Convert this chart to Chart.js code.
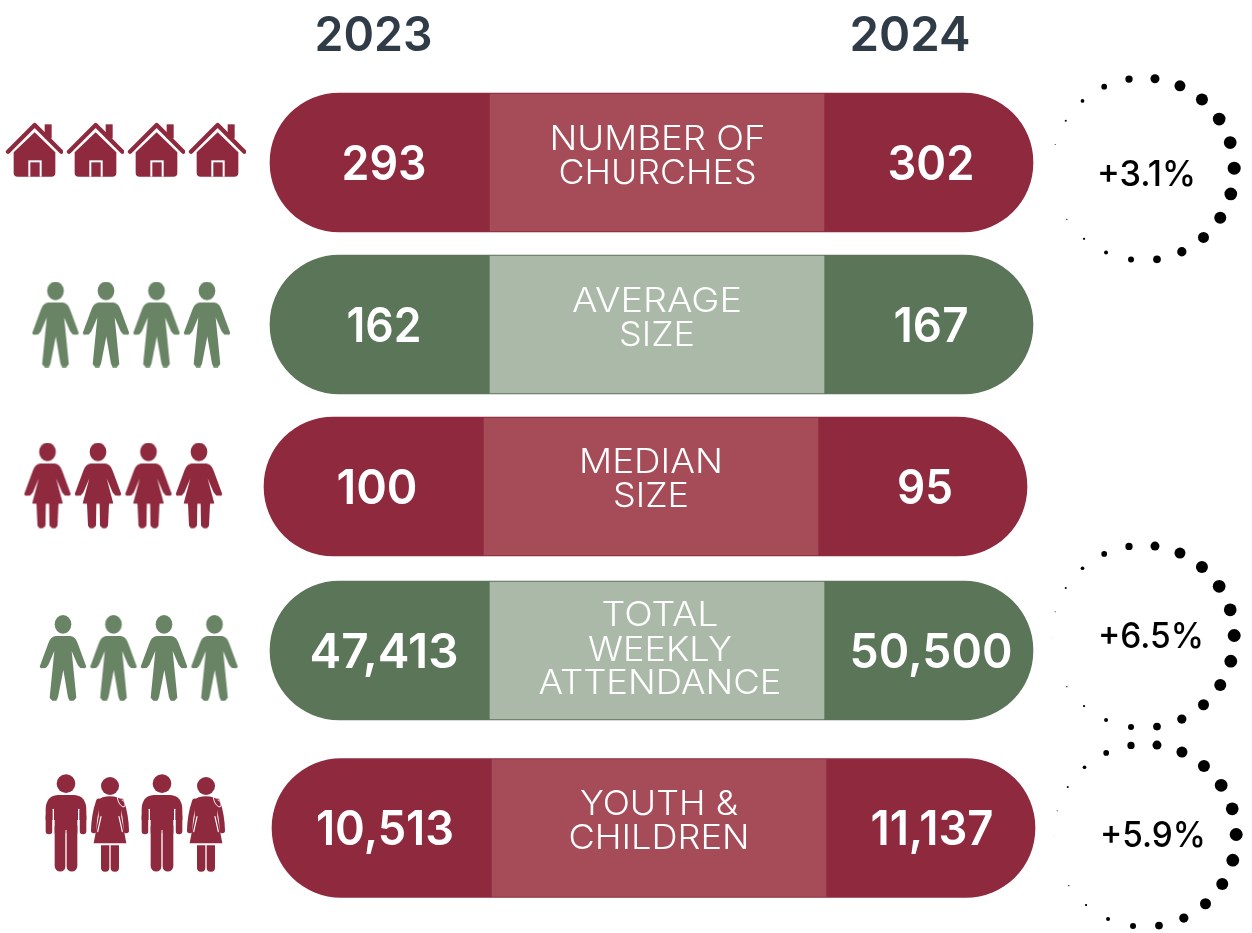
<!DOCTYPE html>
<html><head><meta charset="utf-8">
<style>html,body{margin:0;padding:0;background:#fff}canvas{display:block}</style>
<script src="https://cdn.jsdelivr.net/npm/chart.js@4"></script>
</head><body><canvas id="c" width="1252" height="933"></canvas>
<script>
// ---- data
const years = ['2023', '2024'];
const categories = [['NUMBER OF','CHURCHES'],['AVERAGE','SIZE'],['MEDIAN','SIZE'],['TOTAL','WEEKLY','ATTENDANCE'],['YOUTH &','CHILDREN']];
const values2023 = [293, 162, 100, 47413, 10513];
const values2024 = [302, 167, 95, 50500, 11137];
const changes = ['+3.1%', null, null, '+6.5%', '+5.9%'];
const dotDiameters = [13,12.7,12,11,9.3,7.7,6,4,2.3,1.3,0,0.3,1,2,3.7,5.7,7.3,9,11,12,12.7,12.7];

// ---- layout (axis units are page pixels)
const rowCenter = [162.5, 324.5, 486.5, 650.5, 828];
const rowStart = [270, 270, 264, 270, 272];
const pillLength = 763, bandStartOffset = 220, bandLength = 334;
const RED='#8E293E', REDMID='#A64C58', GREEN='#5B7558', GREENMID='#ABBAA8', REDICON='#8E293E', GREENICON='#688464';
const rowDark=[RED,GREEN,RED,GREEN,RED], rowMid=[REDMID,GREENMID,REDMID,GREENMID,REDMID];
const valueCenter = [[384,931],[384,931],[377,925],[384,931],[385,932]];
const valueWidth2023 = [85,75,81,149,138], valueWidth2024 = [87,75,56,163,123];
const labelCenter = [657.5,657,651,660,659];
const labelLines = [[138,172],[300,334],[461,495],[614,649,682],[803,837]];
const labelWidths = [[216,198],[170,76],[144,76],[117,144,243],[158,181]];
const ringCenter = [[1143,169.2],null,null,[1143,636.5],[1145,835.5]];
const ringLabel = [[1146.5,173,99],null,null,[1151,635,106],[1153,834,106]];
const houseX=[34,95,156,217], houseY=150;
const manX2=[55.5,106,156.5,207], manY2=324.5;
const womanX=[47.5,98,148.5,199], womanY=486;
const manX4=[63,113.5,164,214.5], manY4=658;
const bigManX=[66,162], bigManY=823, girlX=[110,206], girlY=824.5;

// ---- icons (drawn in 3x units, returned as canvases for use as point styles)
function icon(w,h,color,draw){
  const c=document.createElement('canvas'); c.width=w; c.height=h;
  const g=c.getContext('2d'); g.scale(1/3,1/3); g.fillStyle=color; g.strokeStyle=color; g.lineJoin='round'; g.lineCap='round';
  draw(g,color); return c;
}
function house(g,color){
  g.translate(-12,-66);
  g.fillRect(131,73,21,42);
  g.lineWidth=13; g.beginPath(); g.moveTo(21,155); g.lineTo(101,75); g.lineTo(181,155); g.stroke();
  g.beginPath(); g.moveTo(101,97); g.lineTo(163,157); g.lineTo(163,218); g.quadraticCurveTo(163,230,151,230); g.lineTo(50,230);
  g.quadraticCurveTo(38,230,38,218); g.lineTo(38,157); g.closePath(); g.fill();
  g.fillStyle='#fff'; g.fillRect(82,181,40,49);
  g.fillStyle=color; g.fillRect(88,187,28,43);
}
function person(g,points){
  g.translate(11,0);
  const cx=67;
  g.beginPath(); g.ellipse(cx,28,25,28,0,0,Math.PI*2); g.fill();
  g.beginPath(); g.moveTo(cx-22,63); g.lineTo(cx+22,63); g.quadraticCurveTo(cx+38,65,cx+44,85);
  points.forEach(p=>g.lineTo(cx+p[0],p[1]));
  g.lineTo(cx-44,85); g.quadraticCurveTo(cx-38,65,cx-22,63); g.closePath(); g.fill();
}
function man(g){
  person(g,[[70,155],[66,160],[52,159],[44,150],[26,108],[40,248],[32,257],[20,257],[15,247],[1,165],
   [-15,247],[-20,257],[-32,257],[-40,248],[-26,108],[-44,150],[-52,159],[-66,160],[-70,155]]);
}
function woman(g){
  person(g,[[70,155],[66,160],[52,159],[44,150],[26,108],[46,183],[33,184],[30,250],[24,257],[14,257],[6,250],[5,184],
   [-5,184],[-6,250],[-14,257],[-24,257],[-30,250],[-33,184],[-46,183],[-26,108],[-44,150],[-52,159],[-66,160],[-70,155]]);
}
function bigMan(g){
  const cx=66;
  g.translate(0,-42);
  g.beginPath(); g.arc(cx,71,28,0,Math.PI*2); g.fill();
  g.beginPath(); g.moveTo(cx-25,105); g.lineTo(cx+25,105); g.quadraticCurveTo(cx+61,108,cx+61,150); g.lineTo(cx+61,180); g.lineTo(cx-61,180); g.lineTo(cx-61,150); g.quadraticCurveTo(cx-61,108,cx-25,105); g.closePath(); g.fill();
  g.lineWidth=20; [-51,51].forEach(d=>{g.beginPath(); g.moveTo(cx+d,170); g.lineTo(cx+d,213); g.stroke();});
  g.fillRect(cx-34,150,68,70);
  g.lineWidth=33; [-17.5,17.5].forEach(d=>{g.beginPath(); g.moveTo(cx+d,200); g.lineTo(cx+d,318); g.stroke();});
  g.strokeStyle='#fff'; g.lineWidth=4; g.lineCap='round';
  [-38,38].forEach(d=>{g.beginPath(); g.moveTo(cx+d,148); g.lineTo(cx+d,235); g.stroke();});
  g.lineWidth=3; g.lineCap='butt'; g.beginPath(); g.moveTo(cx,210); g.lineTo(cx,336); g.stroke();
}
function girl(g,color){
  const cx=60;
  g.translate(0,-51);
  g.beginPath(); g.arc(cx,78,27,0,Math.PI*2); g.fill();
  g.beginPath(); g.moveTo(cx-22,112); g.quadraticCurveTo(cx,106,cx+22,112); g.lineTo(cx+34,118); g.lineTo(cx+34,170); g.lineTo(cx+49,250); g.lineTo(cx-49,250); g.lineTo(cx-34,170); g.lineTo(cx-34,118); g.closePath(); g.fill();
  g.lineWidth=16;
  g.beginPath(); g.moveTo(cx-34,124); g.quadraticCurveTo(cx-48,165,cx-49,212); g.stroke();
  g.beginPath(); g.moveTo(cx+34,124); g.quadraticCurveTo(cx+48,165,cx+49,212); g.stroke();
  g.strokeStyle='#fff'; g.lineWidth=3.5;
  g.beginPath(); g.moveTo(cx-27,170); g.lineTo(cx-37,215); g.stroke();
  g.beginPath(); g.moveTo(cx+27,170); g.lineTo(cx+37,215); g.stroke();
  g.lineWidth=3;
  g.beginPath(); g.moveTo(cx+22,94); g.bezierCurveTo(cx+18,115,cx+28,140,cx+42,141); g.bezierCurveTo(cx+48,135,cx+46,122,cx+36,120); g.stroke();
  g.beginPath(); g.roundRect(cx-27,256,25,79,[0,0,12,12]); g.fill();
  g.beginPath(); g.roundRect(cx+2,256,25,79,[0,0,12,12]); g.fill();
}
const houseIcon=icon(58,56,REDICON,house);
const manGreen=icon(52,86,GREENICON,man);
const womanRed=icon(52,87,REDICON,woman);
const bigManIcon=icon(44,98,REDICON,bigMan);
const girlIcon=icon(40,95,REDICON,girl);

function iconSet(xs,y,style){
  return {type:'scatter',data:xs.map(x=>({x,y})),pointStyle:style,pointRadius:10,pointHoverRadius:10,showLine:false};
}
function ringSet(i){
  const ring=ringCenter[i];
  const step=2*Math.PI/dotDiameters.length, tilt=-0.64*Math.PI/180, R=91.2;
  return {type:'scatter',showLine:false,
    data:dotDiameters.map((d,k)=>({x:ring[0]+R*Math.cos(k*step+tilt),y:ring[1]+R*Math.sin(k*step+tilt)})),
    backgroundColor:'#000',borderWidth:0,pointRadius:dotDiameters.map(d=>d/2),pointStyle:'circle'};
}
const bandData=rowCenter.map((y,i)=>({y,x:[rowStart[i]+bandStartOffset,rowStart[i]+bandStartOffset+bandLength]}));
const pillData=rowCenter.map((y,i)=>({y,x:[rowStart[i],rowStart[i]+pillLength]}));

function fit(ctx,text,cx,cy,font,width,color){
  ctx.save(); ctx.font=font; ctx.fillStyle=color; ctx.textAlign='center'; ctx.textBaseline='alphabetic';
  const m=ctx.measureText(text), sx=width/m.width, size=parseFloat(font.match(/(\d+)px/)[1]);
  ctx.translate(cx,cy+size*0.727/2); ctx.scale(sx,1); ctx.fillText(text,0,0); ctx.restore();
}
const fmt=v=>v.toLocaleString('en-US');
const textPlugin={id:'text',afterDatasetsDraw(chart){
  const {ctx,scales:{x,y}}=chart, F='Inter, sans-serif';
  const P=(a,b)=>[x.getPixelForValue(a),y.getPixelForValue(b)];
  const head=[[373.5,118],[910,121]];
  years.forEach((t,i)=>{const [a,b]=P(head[i][0],33.5); fit(ctx,t,a,b,'600 48px '+F,head[i][1],'#2F3B47');});
  categories.forEach((lines,i)=>{
    fit(ctx,fmt(values2023[i]),...P(valueCenter[i][0],rowCenter[i]),'600 48px '+F,valueWidth2023[i],'#fff');
    fit(ctx,fmt(values2024[i]),...P(valueCenter[i][1],rowCenter[i]),'600 48px '+F,valueWidth2024[i],'#fff');
    lines.forEach((t,k)=>fit(ctx,t,...P(labelCenter[i],labelLines[i][k]),'300 34px '+F,labelWidths[i][k],'#fff'));
    if(changes[i]){const r=ringLabel[i]; fit(ctx,changes[i],...P(r[0],r[1]),'500 35px '+F,r[2],'#000');}
  });
}};
new Chart(document.getElementById('c'),{
  type:'bar',
  plugins:[textPlugin],
  data:{datasets:[
    {indexAxis:'y',data:bandData,backgroundColor:rowMid,barThickness:137,grouped:false,borderSkipped:false,borderWidth:0},
    {indexAxis:'y',data:pillData,backgroundColor:rowDark,barThickness:139,grouped:false,borderSkipped:false,borderWidth:0,borderRadius:70},
    iconSet(houseX,houseY,houseIcon),
    iconSet(manX2,manY2,manGreen),
    iconSet(womanX,womanY,womanRed),
    iconSet(manX4,manY4,manGreen),
    iconSet(bigManX,bigManY,bigManIcon),
    iconSet(girlX,girlY,girlIcon),
    ringSet(0),ringSet(3),ringSet(4)
  ]},
  options:{
    responsive:false,animation:false,events:[],
    layout:{padding:0,autoPadding:false},
    scales:{
      x:{type:'linear',min:0,max:1252,display:false,offset:false},
      y:{type:'linear',min:0,max:933,reverse:true,display:false,offset:false}
    },
    plugins:{legend:{display:false},tooltip:{enabled:false}}
  }
});
</script></body></html>
